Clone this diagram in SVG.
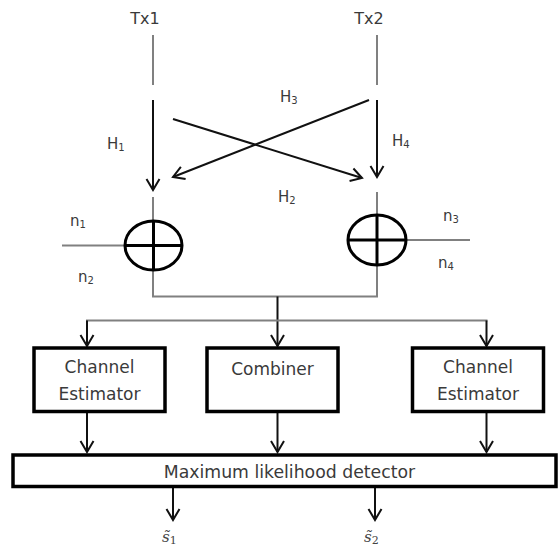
<svg xmlns="http://www.w3.org/2000/svg" width="559" height="549" viewBox="0 0 559 549">
<style>
.t{font-family:"DejaVu Sans","Open Sans",sans-serif;fill:#3a3a3a;}
.lbl{font-size:15px;}
.bt{font-size:17px;}
.box{fill:#fff;stroke:#000;stroke-width:3.5;}
.g{stroke:#808080;stroke-width:2;fill:none;}
.a{stroke:#111;stroke-width:2;fill:none;marker-end:url(#ah);}
.sum{fill:none;stroke:#000;stroke-width:3;}
.s{font-family:"DejaVu Serif","Liberation Serif",serif;font-style:italic;font-size:15px;fill:#444;}
</style>
<defs>
<marker id="ah" markerUnits="userSpaceOnUse" markerWidth="24" markerHeight="24" viewBox="-14 -12 16 24" refX="0" refY="0" orient="auto">
<path d="M-11,-6.5 L0,0 L-11,6.5" fill="none" stroke="#111" stroke-width="2"/>
</marker>
</defs>
<rect width="559" height="549" fill="#fff"/>
<g id="connectors">
<line class="g" x1="153" y1="35" x2="153" y2="85"/>
<line class="g" x1="377" y1="35" x2="377" y2="85"/>
<line class="a" x1="153" y1="100" x2="153" y2="190"/>
<line class="a" x1="377" y1="100" x2="377" y2="177"/>
<line class="a" x1="173" y1="119" x2="362" y2="178"/>
<line class="a" x1="369" y1="100" x2="173" y2="177"/>
<line class="g" x1="153" y1="197" x2="153" y2="221"/>
<line class="g" x1="377" y1="192" x2="377" y2="215"/>
<line class="g" x1="62" y1="245.5" x2="125" y2="245.5"/>
<line class="g" x1="406" y1="240" x2="470" y2="240"/>
<polyline class="g" points="153,270 153,296.5 377,296.5 377,265"/>
<line class="a" x1="277.5" y1="296.5" x2="277.5" y2="346"/>
<line class="g" x1="86" y1="320.5" x2="487.5" y2="320.5"/>
<line class="a" x1="87" y1="320.5" x2="87" y2="346"/>
<line class="a" x1="486.5" y1="320.5" x2="486.5" y2="346"/>
<line class="a" x1="87" y1="412" x2="87" y2="452"/>
<line class="a" x1="277.5" y1="412" x2="277.5" y2="452"/>
<line class="a" x1="486.5" y1="412" x2="486.5" y2="452"/>
<line class="a" x1="173" y1="487" x2="173" y2="520"/>
<line class="a" x1="375" y1="487" x2="375" y2="520"/>
</g>
<g id="tx1"><text class="t" x="145" y="24" font-size="16" text-anchor="middle">Tx1</text></g>
<g id="tx2"><text class="t" x="369" y="24" font-size="16" text-anchor="middle">Tx2</text></g>
<g id="labels">
<text class="t lbl" x="107" y="149">H<tspan font-size="10" dy="2">1</tspan></text>
<text class="t lbl" x="280" y="102">H<tspan font-size="10" dy="2">3</tspan></text>
<text class="t lbl" x="392" y="146">H<tspan font-size="10" dy="2">4</tspan></text>
<text class="t lbl" x="278" y="202">H<tspan font-size="10" dy="2">2</tspan></text>
<text class="t lbl" x="70" y="226">n<tspan font-size="10" dy="2">1</tspan></text>
<text class="t lbl" x="78" y="282">n<tspan font-size="10" dy="2">2</tspan></text>
<text class="t lbl" x="443" y="221">n<tspan font-size="10" dy="2">3</tspan></text>
<text class="t lbl" x="438" y="268">n<tspan font-size="10" dy="2">4</tspan></text>
</g>
<g id="sum1">
<ellipse class="sum" cx="153.5" cy="245.5" rx="28.5" ry="24.5"/>
<line class="sum" x1="153.5" y1="221" x2="153.5" y2="270"/>
<line class="sum" x1="125" y1="245.5" x2="182" y2="245.5"/>
</g>
<g id="sum2">
<ellipse class="sum" cx="377" cy="240" rx="29" ry="25"/>
<line class="sum" x1="377" y1="215" x2="377" y2="265"/>
<line class="sum" x1="348" y1="240" x2="406" y2="240"/>
</g>
<g id="est1">
<rect class="box" x="34" y="348" width="131" height="63.5"/>
<text class="t bt" x="99.5" y="373" text-anchor="middle">Channel</text>
<text class="t bt" x="99.5" y="400" text-anchor="middle">Estimator</text>
</g>
<g id="combiner">
<rect class="box" x="207" y="348" width="131" height="63.5"/>
<text class="t bt" x="272.5" y="375" text-anchor="middle">Combiner</text>
</g>
<g id="est2">
<rect class="box" x="412.5" y="348" width="131" height="63.5"/>
<text class="t bt" x="478" y="373" text-anchor="middle">Channel</text>
<text class="t bt" x="478" y="400" text-anchor="middle">Estimator</text>
</g>
<g id="mld">
<rect class="box" x="13" y="455" width="543" height="31.5"/>
<text class="t" x="289.5" y="478" font-size="17.3" text-anchor="middle">Maximum likelihood detector</text>
</g>
<g id="out1"><text class="s" x="162" y="542">s̃<tspan font-size="11" font-style="normal" dy="2">1</tspan></text></g>
<g id="out2"><text class="s" x="364" y="542">s̃<tspan font-size="11" font-style="normal" dy="2">2</tspan></text></g>
</svg>
